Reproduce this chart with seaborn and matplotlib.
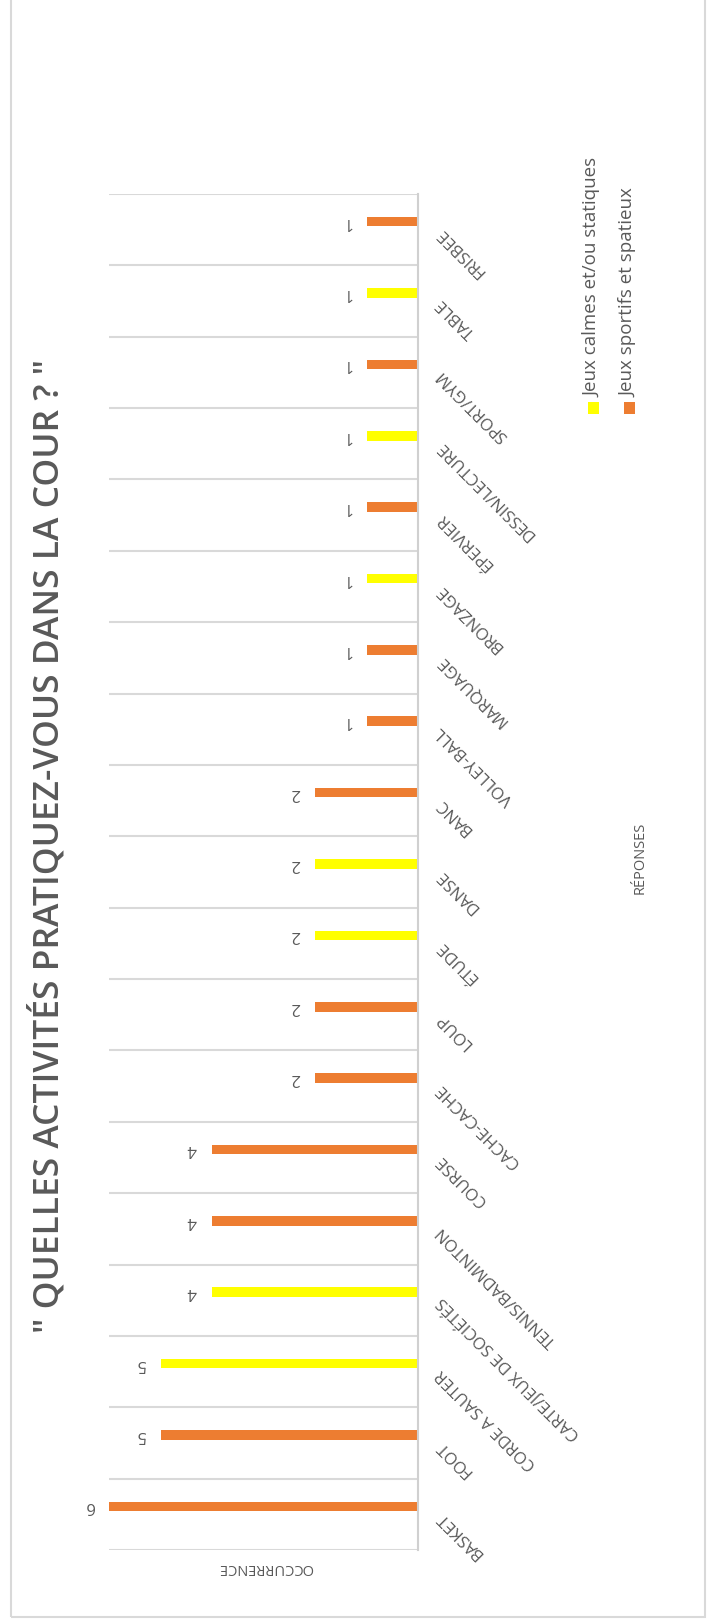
import matplotlib
matplotlib.use("Agg")
import matplotlib.pyplot as plt
import seaborn as sns
import pandas as pd
import numpy as np
from matplotlib.patches import Rectangle

# ---- data (original chart order, left to right) ----
categories = ["BASKET", "FOOT", "CORDE A SAUTER", "CARTE/JEUX DE SOCIÉTÉS",
              "TENNIS/BADMINTON", "COURSE", "CACHE-CACHE", "LOUP", "ÉTUDE",
              "DANSE", "BANC", "VOLLEY-BALL", "MARQUAGE", "BRONZAGE",
              "ÉPERVIER", "DESSIN/LECTURE", "SPORT/GYM", "TABLE", "FRISBEE"]
values = [6, 5, 5, 4, 4, 4, 2, 2, 2, 2, 2, 1, 1, 1, 1, 1, 1, 1, 1]
series_calm = "Jeux calmes et/ou statiques"
series_sport = "Jeux sportifs et spatieux"
groups = [series_sport, series_sport, series_calm, series_calm, series_sport,
          series_sport, series_sport, series_sport, series_calm, series_calm,
          series_sport, series_sport, series_sport, series_calm, series_sport,
          series_calm, series_sport, series_calm, series_sport]
series_order = [series_calm, series_sport]
series_colors = {series_calm: "#FFFF00", series_sport: "#ED7D31"}

title = '" QUELLES ACTIVITÉS PRATIQUEZ-VOUS DANS LA COUR ? "'
value_axis_title = "OCCURRENCE"
category_axis_title = "RÉPONSES"

df = pd.DataFrame({"cat": categories, "val": values, "grp": groups})

sns.set_theme(style="white")
plt.rcParams["font.family"] = ["Open Sans", "DejaVu Sans"]
TXT = "#595959"
GRID = "#d9d9d9"

W, H = 710, 1623
fig = plt.figure(figsize=(W / 100, H / 100), dpi=100)
fig.patch.set_facecolor("white")

# plot area (pixel bounds of the reference)
left_px, right_px, top_px, bot_px = 109, 418, 194, 1550
ax = fig.add_axes([left_px / W, 1 - bot_px / H, (right_px - left_px) / W, (bot_px - top_px) / H])

order = categories[::-1]  # FRISBEE on top, BASKET at bottom
sns.barplot(data=df, y="cat", x="val", hue="grp", order=order,
            hue_order=series_order, palette=series_colors, orient="h",
            dodge=False, width=0.134, legend=False, ax=ax, linewidth=0,
            saturation=1)

off = 0.112  # bars sit slightly above the category centre
n = len(categories)
ax.set_xlim(6, 0)
ax.set_ylim(n - 0.5 + off, -0.5 + off)

ax.set_yticks(np.arange(n) + off)
ax.set_yticklabels(order)
ax.set_yticks(np.arange(n + 1) - 0.5 + off, minor=True)
ax.yaxis.tick_right()
ax.tick_params(axis="y", which="both", length=0, pad=15, labelsize=12, labelcolor=TXT)
for lab in ax.get_yticklabels():
    lab.set_rotation(135)
    lab.set_rotation_mode("anchor")
    lab.set_ha("right")
    lab.set_va("center")
ax.grid(False)
ax.grid(True, axis="y", which="minor", color=GRID, linewidth=1.5)
ax.set_xticks([])
ax.set_xlabel("")
ax.set_ylabel("")
for s in ["left", "top", "bottom"]:
    ax.spines[s].set_visible(False)
ax.spines["right"].set_color("#d0d0d0")
ax.spines["right"].set_linewidth(1.5)
ax.set_facecolor("white")

for cont in ax.containers:
    ax.bar_label(cont, padding=11, rotation=180, color=TXT, fontsize=12)

# titles
fig.text(48 / W, 1 - 846 / H, title, rotation=90, ha="center", va="center",
         fontsize=25.5, fontweight="semibold", color=TXT)
fig.text(266 / W, 1 - 1567 / H, value_axis_title, rotation=180, ha="center",
         va="center", fontsize=10.5, color=TXT)
fig.text(640 / W, 1 - 858 / H, category_axis_title, rotation=90, ha="center",
         va="center", fontsize=10.5, color=TXT)

# legend (rotated)
leg_x = [593, 629]
for xpx, name in zip(leg_x, series_order):
    sq = 11
    fig.patches.append(Rectangle(((xpx - sq / 2) / W, 1 - (408 + sq / 2) / H), sq / W, sq / H,
                                 transform=fig.transFigure, facecolor=series_colors[name],
                                 edgecolor="none"))
    fig.text(xpx / W, 1 - 397 / H, name, rotation=90, ha="center", va="bottom",
             fontsize=13.5, color=TXT)

# chart border
fig.patches.append(Rectangle((11 / W, 1 - 1617 / H), (705 - 11) / W, (1617 + 10) / H,
                             transform=fig.transFigure, facecolor="none",
                             edgecolor=GRID, linewidth=1.5))

fig.savefig("out.png", dpi=100, facecolor="white")
